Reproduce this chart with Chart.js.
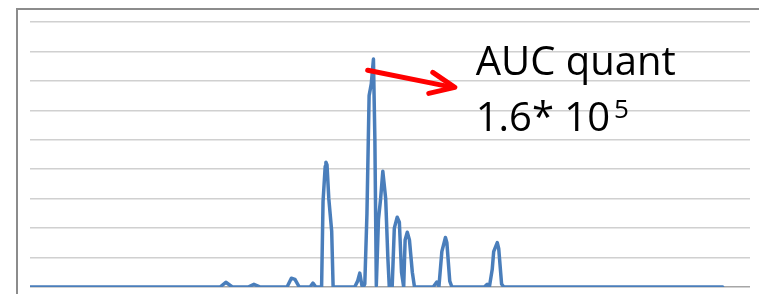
<!DOCTYPE html>
<html>
<head>
<meta charset="utf-8">
<script src="https://cdn.jsdelivr.net/npm/chart.js@4.4.0/dist/chart.umd.min.js"></script>
<style>
  html, body { margin: 0; padding: 0; background: #fff; overflow: hidden; }
  #wrap { position: relative; width: 759px; height: 294px; }
</style>
</head>
<body>
<div id="wrap"><canvas id="chromChart" width="759" height="294"></canvas></div>
<script>
// retention time (arbitrary units, axis runs 0..100)
var times = [0, 26.4, 27.2, 28.1, 30.3, 31.1, 32.0, 35.7, 36.3, 36.8, 37.4, 38.9, 39.3, 39.7,
  40.5, 40.7, 41.0, 41.1, 41.25, 41.5, 41.9, 42.1,
  45.1, 45.5, 45.8, 46.1, 46.3, 46.5, 46.8, 47.1, 47.4, 47.7, 47.9, 48.1, 48.4, 48.7, 49.0, 49.4, 49.7, 49.9, 50.3,
  50.6, 51.0, 51.3, 51.6, 51.9, 52.1, 52.4, 52.7, 53.1, 53.4,
  56.0, 56.5, 56.8, 57.2, 57.7, 57.9, 58.3, 58.6,
  63.1, 63.5, 63.8, 64.2, 64.4, 64.9, 65.1, 65.5, 65.8, 96.2];
// detector signal (grid units)
var signal = [0, 0, 0.16, 0, 0, 0.09, 0, 0, 0.3, 0.26, 0, 0, 0.13, 0,
  0, 2.9, 4.1, 4.24, 4.15, 3.0, 1.9, 0,
  0, 0.2, 0.47, 0.05, 0, 0.1, 2.5, 6.5, 6.9, 7.74, 5.0, 0.05, 2.3, 3.0, 3.93, 3.0, 1.0, 0, 0,
  2.0, 2.37, 2.2, 0.5, 0, 1.6, 1.86, 1.6, 0.5, 0,
  0, 0.17, 0.02, 1.2, 1.68, 1.5, 0.2, 0,
  0, 0.09, 0, 0.6, 1.2, 1.51, 1.3, 0.1, 0, 0];
var gridTicks = [0, 1, 2, 3, 4, 5, 6, 7, 8, 9];
var labelLines = ["AUC quant", "1.6* 10"];
var labelSup = "5";

var points = times.map(function(t, i) { return { x: t, y: signal[i] }; });

// frame, arrow and annotation text
var overlay = {
  id: "overlay",
  beforeDraw: function(chart) {
    var c = chart.ctx;
    c.save();
    c.strokeStyle = "#8c8c8c";
    c.lineWidth = 2;
    c.strokeRect(17, 9, 800, 400);
    c.restore();
  },
  afterDraw: function(chart) {
    var c = chart.ctx, xs = chart.scales.x, ys = chart.scales.y;
    var x0 = xs.getPixelForValue(46.9), y0 = ys.getPixelForValue(7.36);
    var x1 = xs.getPixelForValue(59.0), y1 = ys.getPixelForValue(6.78);
    c.save();
    c.strokeStyle = "#ff0000";
    c.lineWidth = 5;
    c.lineCap = "round";
    c.lineJoin = "round";
    c.beginPath();
    c.moveTo(x0, y0);
    c.lineTo(x1 - 2, y1);
    c.stroke();
    c.beginPath();
    c.moveTo(x1 - 22, y1 - 15);
    c.lineTo(x1, y1);
    c.lineTo(x1 - 26, y1 + 6);
    c.stroke();

    var tx = xs.getPixelForValue(61.9);
    c.fillStyle = "#000";
    c.font = "40px 'Open Sans', 'Liberation Sans', sans-serif";
    c.textBaseline = "alphabetic";
    c.fillText(labelLines[0], tx, ys.getPixelForValue(7.2));
    var by = ys.getPixelForValue(5.3);
    c.fillText(labelLines[1], tx, by);
    var w = c.measureText(labelLines[1]).width;
    c.font = "26px 'Open Sans', 'Liberation Sans', sans-serif";
    c.fillText(labelSup, tx + w + 4, by - 13);
    c.restore();
  }
};

new Chart(document.getElementById("chromChart").getContext("2d"), {
  type: "line",
  data: {
    datasets: [{
      data: points,
      borderColor: "#4a7ebb",
      borderWidth: 3.5,
      borderJoinStyle: "round",
      borderCapStyle: "round",
      pointRadius: 0,
      tension: 0,
      fill: false
    }]
  },
  options: {
    responsive: false,
    animation: false,
    layout: { padding: { left: 30, top: 22, right: 9, bottom: 7 } },
    plugins: { legend: { display: false }, tooltip: { enabled: false } },
    scales: {
      x: {
        type: "linear", min: 0, max: 100,
        display: false
      },
      y: {
        min: 0, max: 9,
        afterBuildTicks: function(axis) { axis.ticks = gridTicks.map(function(v) { return { value: v }; }); },
        grid: {
          color: function(ctx) { return ctx.tick && ctx.tick.value === 0 ? "#a6a6a6" : "#d0d0d0"; },
          lineWidth: 1.5,
          drawTicks: false
        },
        border: { display: false },
        ticks: { display: false, padding: 0 }
      }
    }
  },
  plugins: [overlay]
});
</script>
</body>
</html>
